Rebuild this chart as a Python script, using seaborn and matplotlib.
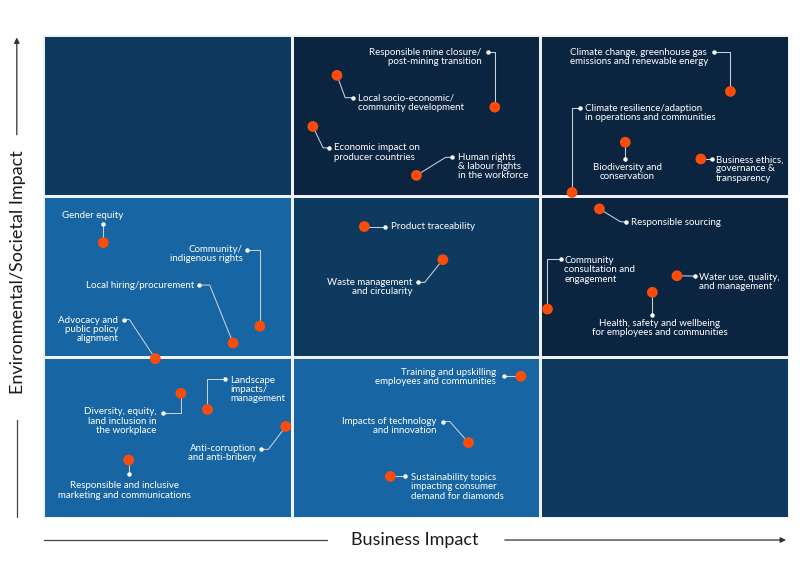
import numpy as np
import matplotlib.pyplot as plt
import seaborn as sns
from matplotlib.colors import ListedColormap
from matplotlib.lines import Line2D

# cell shading, rows listed bottom -> top (0 = medium, 1 = mid, 2 = dark)
grid_levels = [
    [0, 0, 1],
    [0, 1, 2],
    [1, 2, 2],
]
cell_colors = ["#1765a3", "#0e3a5f", "#0b2440"]

topics = [
    "Responsible mine closure/\npost-mining transition",
    "Local socio-economic/\ncommunity development",
    "Economic impact on\nproducer countries",
    "Human rights\n& labour rights\nin the workforce",
    "Climate change, greenhouse gas\nemissions and renewable energy",
    "Climate resilience/adaption\nin operations and communities",
    "Biodiversity and\nconservation",
    "Business ethics,\ngovernance &\ntransparency",
    "Gender equity",
    "Community/\nindigenous rights",
    "Local hiring/procurement",
    "Advocacy and\npublic policy\nalignment",
    "Product traceability",
    "Waste management\nand circularity",
    "Responsible sourcing",
    "Community\nconsultation and\nengagement",
    "Water use, quality,\nand management",
    "Health, safety and wellbeing\nfor employees and communities",
    "Landscape\nimpacts/\nmanagement",
    "Diversity, equity,\nland inclusion in\nthe workplace",
    "Anti-corruption\nand anti-bribery",
    "Responsible and inclusive\nmarketing and communications",
    "Training and upskilling\nemployees and communities",
    "Impacts of technology\nand innovation",
    "Sustainability topics\nimpacting consumer\ndemand for diamonds",
]
business_impact = [1.817, 1.182, 1.085, 1.502, 2.765, 2.128, 2.342, 2.646,
                   0.242, 0.872, 0.764, 0.451, 1.292, 1.608, 2.238, 2.029,
                   2.550, 2.451, 0.661, 0.554, 0.976, 0.344, 1.922, 1.711, 1.397]
env_impact = [2.553, 2.751, 2.433, 2.129, 2.651, 2.023, 2.335, 2.231,
              1.711, 1.192, 1.087, 0.990, 1.811, 1.605, 1.921, 1.298,
              1.505, 1.402, 0.674, 0.775, 0.568, 0.360, 0.880, 0.468, 0.258]

# label layout: text anchor, alignment, leader dot, optional elbow
label_pos = [
    (1.764, 2.866, "right"), (1.268, 2.581, "left"), (1.171, 2.271, "left"),
    (1.670, 2.182, "left"), (2.120, 2.866, "left"), (2.180, 2.518, "left"),
    (2.350, 2.148, "center"), (2.706, 2.169, "left"), (0.198, 1.878, "center"),
    (0.802, 1.639, "right"), (0.606, 1.447, "right"), (0.302, 1.171, "right"),
    (1.400, 1.811, "left"), (1.487, 1.433, "right"), (2.366, 1.838, "left"),
    (2.097, 1.541, "left"), (2.639, 1.468, "left"), (2.480, 1.182, "center"),
    (0.754, 0.799, "left"), (0.457, 0.602, "right"), (0.856, 0.402, "right"),
    (0.327, 0.170, "center"), (1.821, 0.876, "right"), (1.583, 0.571, "right"),
    (1.480, 0.192, "left"),
]
leader_dot = [
    (1.788, 2.897), (1.246, 2.612), (1.151, 2.300), (1.646, 2.241),
    (2.700, 2.893), (2.160, 2.550), (2.342, 2.231), (2.689, 2.231),
    (0.242, 1.826), (0.821, 1.666), (0.627, 1.447), (0.324, 1.233),
    (1.377, 1.811), (1.509, 1.464), (2.346, 1.838), (2.083, 1.608),
    (2.621, 1.503), (2.451, 1.260), (0.731, 0.861), (0.484, 0.653),
    (0.877, 0.426), (0.344, 0.273), (1.854, 0.880), (1.610, 0.599),
    (1.457, 0.258),
]
leader_elbow = [
    (1.817, 2.897), (1.215, 2.612), (1.126, 2.300), (1.619, 2.241),
    (2.765, 2.893), (2.128, 2.550), None, None,
    None, (0.872, 1.666), (0.670, 1.447), (0.347, 1.233),
    None, (1.535, 1.464), (2.321, 1.842), (2.029, 1.608),
    None, None, (0.661, 0.861), (0.554, 0.653),
    (0.906, 0.426), None, None, (1.636, 0.599),
    None,
]

sns.set_theme(style="white")
plt.rcParams["font.family"] = ["Lato", "DejaVu Sans"]

fig = plt.figure(figsize=(8, 5.78), dpi=100)
ax = fig.add_axes([0.054, 0.104, 0.932, 0.835])

sns.heatmap(np.array(grid_levels), cmap=ListedColormap(cell_colors), vmin=-0.5, vmax=2.5,
            cbar=False, linewidths=2, linecolor="#eef2f6",
            xticklabels=False, yticklabels=False, ax=ax)
ax.set_xlim(0, 3)
ax.set_ylim(0, 3)
ax.set_axis_off()

# leader lines
line_col = "#c8d1dc"
for i in range(len(topics)):
    dx, dy = leader_dot[i]
    xs, ys = [dx], [dy]
    if leader_elbow[i] is not None:
        xs.append(leader_elbow[i][0])
        ys.append(leader_elbow[i][1])
    xs.append(business_impact[i])
    ys.append(env_impact[i])
    ax.plot(xs, ys, color=line_col, lw=0.75, zorder=3)
    ax.plot(dx, dy, "o", ms=2.2, color="white", zorder=4)

sns.scatterplot(x=business_impact, y=env_impact, color="#fc4c0a", s=60,
                edgecolor="none", zorder=5, ax=ax, legend=False)

for name, (tx, ty, ha) in zip(topics, label_pos):
    ax.text(tx, ty, name, ha=ha, va="center", multialignment=ha,
            fontsize=7.0, color="white", linespacing=1.02, zorder=6)

# axis arrows and titles
fig.add_artist(Line2D([0.055, 0.409], [0.0657, 0.0657], color="#444444", lw=0.9))
ax.annotate("", xy=(0.986, 0.0657), xytext=(0.6275, 0.0657), xycoords="figure fraction",
            arrowprops=dict(arrowstyle="-|>", color="#333333", lw=0.9, mutation_scale=8))
fig.text(0.519, 0.0657, "Business Impact", ha="center", va="center",
         fontsize=13, color="#1a1a1a")

fig.add_artist(Line2D([0.021, 0.021], [0.1055, 0.273], color="#444444", lw=0.9))
ax.annotate("", xy=(0.021, 0.94), xytext=(0.021, 0.762), xycoords="figure fraction",
            arrowprops=dict(arrowstyle="-|>", color="#333333", lw=0.9, mutation_scale=8))
fig.text(0.022, 0.529, "Environmental/Societal Impact", ha="center", va="center",
         rotation=90, fontsize=13, color="#1a1a1a")

fig.savefig("out.png", dpi=100, facecolor="white")
